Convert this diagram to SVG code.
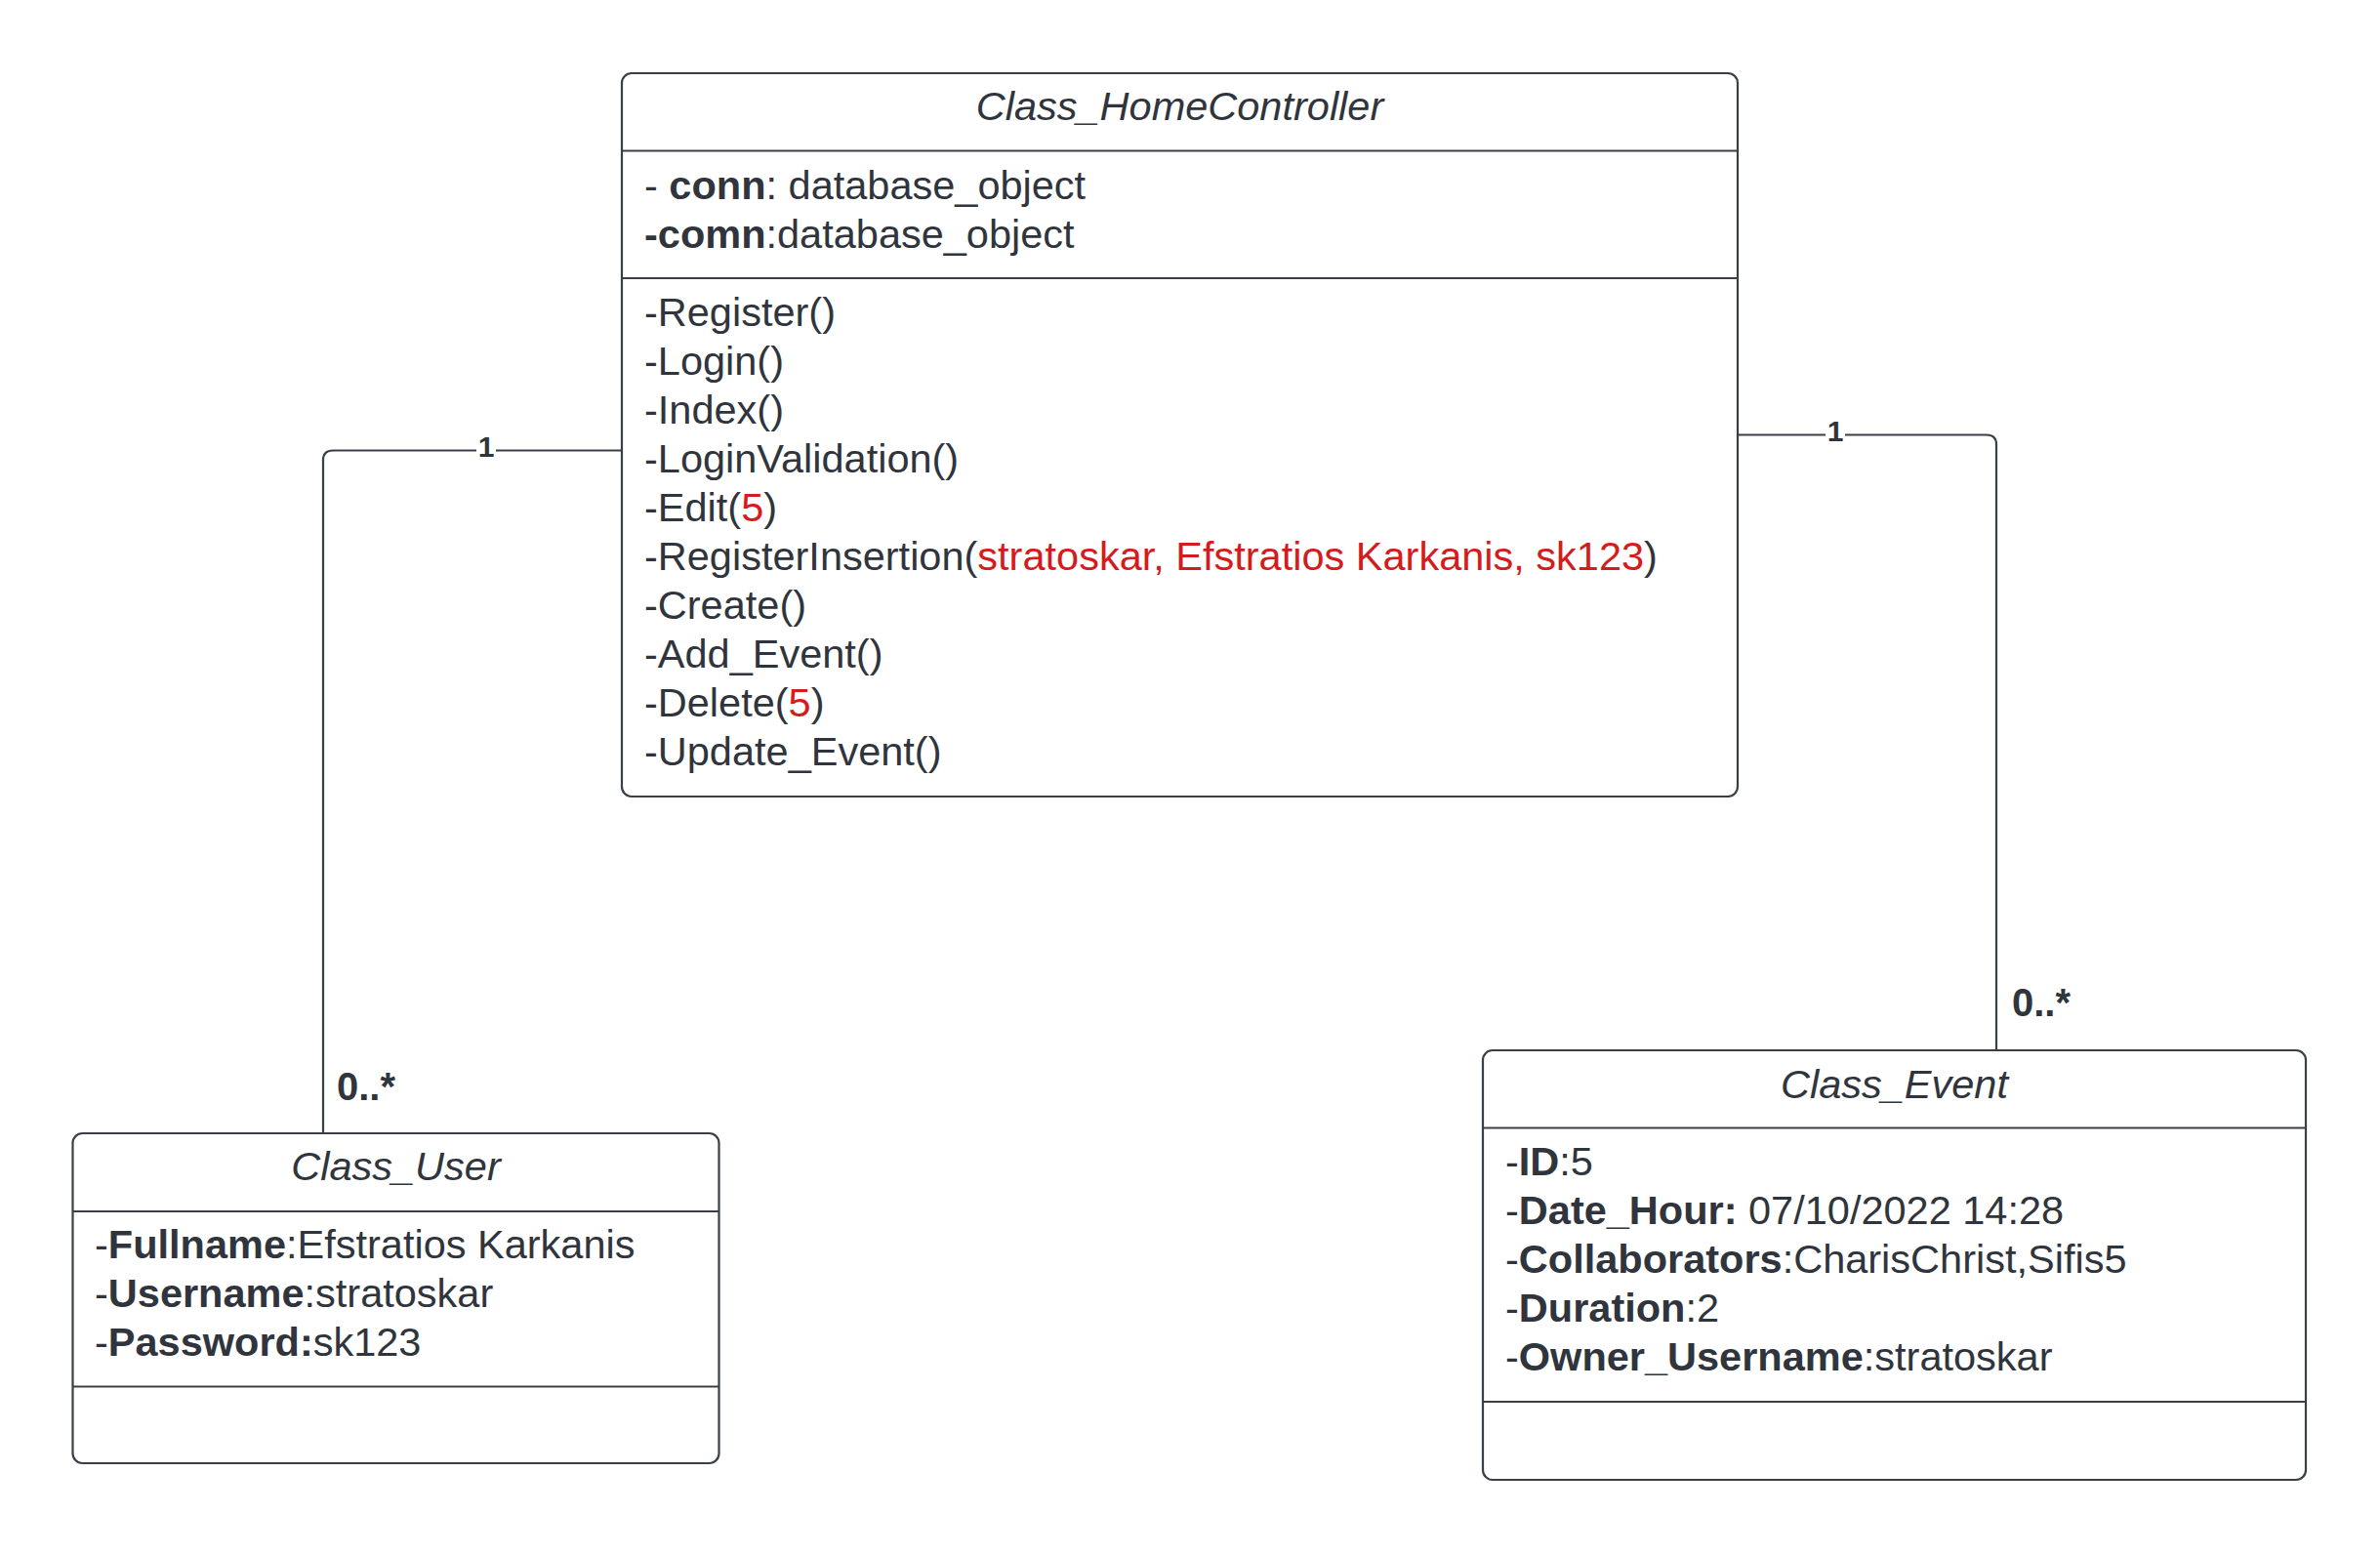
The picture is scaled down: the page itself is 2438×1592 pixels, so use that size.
<svg xmlns="http://www.w3.org/2000/svg" width="2438" height="1592" viewBox="0 0 2438 1592">
<style>
.box{fill:#ffffff;stroke:#3a3f47;stroke-width:2.2}
.div{stroke:#3a3f47;stroke-width:2.2}
.conn{fill:none;stroke:#3a3f47;stroke-width:2.2}
text{font-family:"Liberation Sans",Arial,sans-serif;fill:#30353d}
.t{font-size:41.5px}
.title{font-size:41.5px;font-style:italic;text-anchor:middle}
.b{font-weight:bold}
.r{fill:#d41c1c}
.m1{font-size:30px;font-weight:bold;text-anchor:middle}
.mm{font-size:40px;font-weight:bold}
.lbg{fill:#ffffff}
</style>
<rect width="2438" height="1592" fill="#ffffff"/>
<g id="connectors">
<path class="conn" d="M637,461.5 H341 Q331,461.5 331,471.5 V1161"/>
<rect class="lbg" x="488" y="446" width="20" height="24"/>
<text class="m1" x="498" y="468">1</text>
<text class="mm" x="345" y="1127">0..*</text>
<path class="conn" d="M1780,445.5 H2035 Q2045,445.5 2045,455.5 V1076"/>
<rect class="lbg" x="1870" y="430" width="20" height="24"/>
<text class="m1" x="1880" y="452">1</text>
<text class="mm" x="2061" y="1041">0..*</text>
</g>
<g id="Class_HomeController">
<rect class="box" x="637" y="75" width="1143" height="741" rx="10"/>
<line class="div" x1="637" y1="154.5" x2="1780" y2="154.5"/>
<line class="div" x1="637" y1="285" x2="1780" y2="285"/>
<text class="title" x="1208.5" y="123">Class_HomeController</text>
<text class="t" x="660" y="204">- <tspan class="b">conn</tspan>: database_object</text>
<text class="t" x="660" y="254"><tspan class="b">-comn</tspan>:database_object</text>
<text class="t" x="660" y="334">-Register()</text>
<text class="t" x="660" y="384">-Login()</text>
<text class="t" x="660" y="434">-Index()</text>
<text class="t" x="660" y="484">-LoginValidation()</text>
<text class="t" x="660" y="534">-Edit(<tspan class="r">5</tspan>)</text>
<text class="t" x="660" y="584">-RegisterInsertion(<tspan class="r">stratoskar, Efstratios Karkanis, sk123</tspan>)</text>
<text class="t" x="660" y="634">-Create()</text>
<text class="t" x="660" y="684">-Add_Event()</text>
<text class="t" x="660" y="734">-Delete(<tspan class="r">5</tspan>)</text>
<text class="t" x="660" y="784">-Update_Event()</text>
</g>
<g id="Class_User">
<rect class="box" x="74.5" y="1161" width="662" height="338" rx="10"/>
<line class="div" x1="74.5" y1="1241" x2="736.5" y2="1241"/>
<line class="div" x1="74.5" y1="1420.5" x2="736.5" y2="1420.5"/>
<text class="title" x="405.5" y="1209">Class_User</text>
<text class="t" x="97" y="1289">-<tspan class="b">Fullname</tspan>:Efstratios Karkanis</text>
<text class="t" x="97" y="1339">-<tspan class="b">Username</tspan>:stratoskar</text>
<text class="t" x="97" y="1389">-<tspan class="b">Password:</tspan>sk123</text>
</g>
<g id="Class_Event">
<rect class="box" x="1519" y="1076" width="843" height="440" rx="10"/>
<line class="div" x1="1519" y1="1155.5" x2="2362" y2="1155.5"/>
<line class="div" x1="1519" y1="1436" x2="2362" y2="1436"/>
<text class="title" x="1940.5" y="1125">Class_Event</text>
<text class="t" x="1542" y="1204">-<tspan class="b">ID</tspan>:5</text>
<text class="t" x="1542" y="1254">-<tspan class="b">Date_Hour:</tspan> 07/10/2022 14:28</text>
<text class="t" x="1542" y="1304">-<tspan class="b">Collaborators</tspan>:CharisChrist,Sifis5</text>
<text class="t" x="1542" y="1354">-<tspan class="b">Duration</tspan>:2</text>
<text class="t" x="1542" y="1404">-<tspan class="b">Owner_Username</tspan>:stratoskar</text>
</g>
</svg>
